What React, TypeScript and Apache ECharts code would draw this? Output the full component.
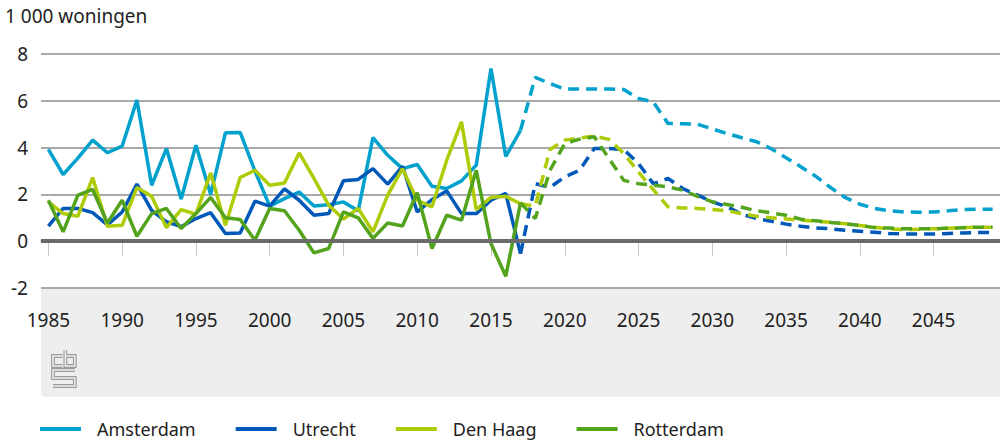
import React, { useEffect, useRef } from "react";
import * as echarts from "echarts";

const years = [
  1985, 1986, 1987, 1988, 1989, 1990, 1991, 1992, 1993, 1994,
  1995, 1996, 1997, 1998, 1999, 2000, 2001, 2002, 2003, 2004,
  2005, 2006, 2007, 2008, 2009, 2010, 2011, 2012, 2013, 2014,
  2015, 2016, 2017, 2018, 2019, 2020, 2021, 2022, 2023, 2024,
  2025, 2026, 2027, 2028, 2029, 2030, 2031, 2032, 2033, 2034,
  2035, 2036, 2037, 2038, 2039, 2040, 2041, 2042, 2043, 2044,
  2045, 2046, 2047, 2048, 2049,
];

// observed 1985-2017
const amsterdamHist = [3.92, 2.85, 3.55, 4.32, 3.78, 4.06, 6.03, 2.39, 3.96, 1.8, 4.1, 2.0, 4.63, 4.65, 3.0, 1.5, 1.82, 2.1, 1.5, 1.56, 1.68, 1.3, 4.43, 3.67, 3.1, 3.28, 2.35, 2.25, 2.58, 3.25, 7.38, 3.62, 4.74];
const utrechtHist = [0.64, 1.4, 1.4, 1.22, 0.7, 1.25, 2.44, 1.32, 0.83, 0.62, 0.97, 1.22, 0.33, 0.35, 1.71, 1.5, 2.24, 1.75, 1.11, 1.18, 2.58, 2.64, 3.1, 2.44, 3.2, 1.25, 1.78, 2.15, 1.18, 1.18, 1.75, 2.04, -0.53];
const denHaagHist = [1.68, 1.18, 1.07, 2.72, 0.64, 0.68, 2.29, 1.92, 0.58, 1.35, 1.15, 2.92, 0.68, 2.72, 3.03, 2.39, 2.49, 3.77, 2.68, 1.54, 0.95, 1.4, 0.4, 1.97, 3.1, 1.75, 1.47, 3.46, 5.1, 1.35, 1.87, 1.92, 1.6];
const rotterdamHist = [1.75, 0.4, 1.97, 2.21, 0.78, 1.75, 0.21, 1.18, 1.4, 0.54, 1.18, 1.87, 1.0, 0.93, 0.04, 1.4, 1.3, 0.47, -0.5, -0.31, 1.25, 1.0, 0.12, 0.78, 0.65, 2.07, -0.31, 1.11, 0.9, 3.03, -0.1, -1.5, 1.64];

// forecast 2017-2049
const amsterdamProg = [4.74, 7.0, 6.74, 6.5, 6.5, 6.5, 6.5, 6.48, 6.1, 5.95, 5.03, 5.02, 5.0, 4.8, 4.6, 4.42, 4.25, 3.95, 3.57, 3.18, 2.78, 2.3, 1.87, 1.58, 1.4, 1.3, 1.25, 1.24, 1.25, 1.3, 1.35, 1.37, 1.37];
const utrechtProg = [-0.53, 2.46, 2.3, 2.75, 3.03, 3.96, 3.96, 3.92, 3.32, 2.46, 2.68, 2.25, 1.97, 1.68, 1.47, 1.15, 0.97, 0.85, 0.73, 0.64, 0.57, 0.53, 0.47, 0.43, 0.38, 0.33, 0.31, 0.31, 0.31, 0.33, 0.35, 0.37, 0.37];
const denHaagProg = [1.6, 1.5, 3.92, 4.32, 4.41, 4.49, 4.35, 3.75, 2.95, 2.2, 1.47, 1.42, 1.4, 1.35, 1.3, 1.18, 1.07, 1.0, 0.95, 0.91, 0.85, 0.81, 0.75, 0.67, 0.6, 0.53, 0.5, 0.51, 0.53, 0.55, 0.57, 0.6, 0.6];
const rotterdamProg = [1.64, 0.97, 3.03, 4.17, 4.36, 4.46, 3.53, 2.6, 2.46, 2.39, 2.32, 2.18, 1.92, 1.68, 1.57, 1.45, 1.3, 1.21, 1.11, 0.94, 0.87, 0.8, 0.75, 0.67, 0.58, 0.56, 0.53, 0.53, 0.53, 0.56, 0.58, 0.6, 0.6];

const cities = ["Amsterdam", "Utrecht", "Den Haag", "Rotterdam"];
const colors = ["#00a1cd", "#0058b8", "#afcb05", "#53a31d"];
const hist = [amsterdamHist, utrechtHist, denHaagHist, rotterdamHist];
const prog = [amsterdamProg, utrechtProg, denHaagProg, rotterdamProg];

const yTitle = "1 000 woningen";
const FONT = "'Noto Sans', sans-serif";

let logoRegistered = false;
function registerLogo() {
  if (logoRegistered) return;
  const d = "M10 6 H0 V16 H10 M13 0 V16 H23 V6 H13 M23 20 H0 V28 H23 V36 H0";
  echarts.graphic.registerShape("cbslogo", echarts.graphic.extendPath(d, {}) as any);
  logoRegistered = true;
}

export default function App() {
  const ref = useRef<HTMLDivElement>(null);

  useEffect(() => {
    if (!ref.current) return;
    registerLogo();
    const chart = echarts.init(ref.current, undefined, { renderer: "svg" });

    const histIdx = years.indexOf(2017);
    const series: any[] = [];
    series.push({
      type: "line",
      name: "nul",
      data: [],
      z: 1,
      silent: true,
      markLine: {
        silent: true,
        symbol: "none",
        label: { show: false },
        lineStyle: { color: "#6b6b6b", width: 4, type: "solid" },
        data: [{ yAxis: 0 }],
      },
    });
    cities.forEach((c, i) => {
      series.push({
        type: "line",
        name: c,
        data: years.map((_, k) => (k <= histIdx ? hist[i][k] : null)),
        symbol: "none",
        lineStyle: { color: colors[i], width: 3.5 },
        itemStyle: { color: colors[i] },
        z: 3,
      });
    });
    cities.forEach((c, i) => {
      series.push({
        type: "line",
        name: c + " prognose",
        data: years.map((_, k) => (k >= histIdx ? prog[i][k - histIdx] : null)),
        symbol: "none",
        lineStyle: { color: colors[i], width: 3.5, type: [11, 7] },
        itemStyle: { color: colors[i] },
        z: 3,
      });
    });

    const showYear = (idx: number) => years[idx] % 5 === 0;

    chart.setOption({
      animation: false,
      textStyle: { fontFamily: FONT },
      grid: { left: 41, right: 0, top: 54, bottom: 154, containLabel: false },
      xAxis: {
        type: "category",
        data: years.map(String),
        boundaryGap: true,
        axisLine: { show: true, lineStyle: { color: "#8c8c8c", width: 1.5 } },
        axisTick: {
          show: true,
          alignWithLabel: true,
          interval: (idx: number) => showYear(idx),
          length: 15,
          lineStyle: { color: "#c8c8c8", width: 1 },
        },
        axisLabel: {
          interval: (idx: number) => showYear(idx),
          fontSize: 19,
          color: "#222",
          margin: 22,
          fontFamily: FONT,
        },
        splitLine: { show: false },
      },
      yAxis: {
        type: "value",
        min: -2,
        max: 8,
        interval: 2,
        axisLine: { show: false },
        axisTick: { show: false },
        axisLabel: { fontSize: 19, color: "#222", margin: 13, fontFamily: FONT },
        splitLine: { show: true, lineStyle: { color: "#8c8c8c", width: 1.5 } },
      },
      legend: {
        data: cities,
        left: 38,
        top: 418,
        padding: 2,
        icon: "rect",
        itemWidth: 41,
        itemHeight: 4,
        itemGap: 40,
        selectedMode: false,
        textStyle: { fontSize: 18, color: "#222", fontFamily: FONT, padding: [0, 0, 0, 11] },
      },
      graphic: [
        {
          type: "text",
          left: 5,
          top: 6,
          style: { text: yTitle, fontSize: 19, fill: "#222", fontFamily: FONT },
        },
        {
          type: "rect",
          z: -10,
          shape: { x: 41, y: 289, width: 959, height: 108, r: [0, 0, 0, 4] },
          style: { fill: "#eeeeee" },
          silent: true,
        },
        {
          type: "cbslogo",
          x: 53,
          y: 350,
          scaleX: 0.95,
          scaleY: 1,
          z: 5,
          style: { fill: null, stroke: "#9c9c9c", lineWidth: 4 },
          silent: true,
        },
        {
          type: "cbslogo",
          x: 53,
          y: 350,
          scaleX: 0.95,
          scaleY: 1,
          z: 6,
          style: { fill: null, stroke: "#eeeeee", lineWidth: 1.6 },
          silent: true,
        },
      ],
      series,
    });

    return () => chart.dispose();
  }, []);

  return (
    <div
      ref={ref}
      style={{ position: "fixed", left: 0, top: 0, width: 1000, height: 442, background: "#fff" }}
    />
  );
}
